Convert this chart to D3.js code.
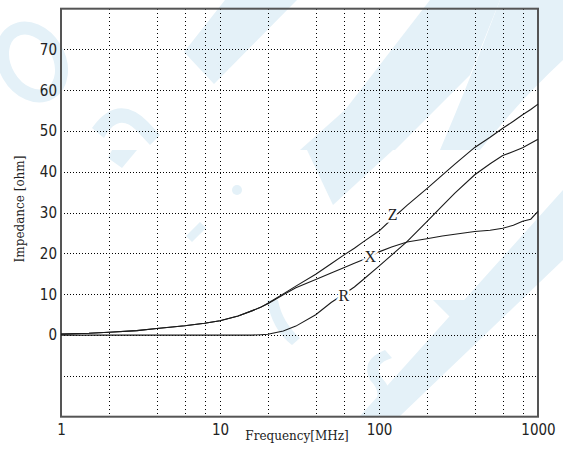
<!DOCTYPE html>
<html><head><meta charset="utf-8">
<script src="https://cdn.jsdelivr.net/npm/d3@7"></script>
<style>body{margin:0;background:#fff}svg{display:block}</style>
</head><body><svg id="c" width="563" height="449"></svg>
<script>
// ---- data ----
const freq  = [1, 1.5, 2, 3, 4, 5, 6, 8, 10, 13, 16, 18, 20, 25, 30, 40, 50, 60, 70, 80, 100, 120, 150, 200, 250, 300, 400, 500, 600, 700, 800, 900, 1000];
const zVals = [0.25, 0.45, 0.7, 1.1, 1.6, 2.0, 2.3, 2.9, 3.5, 4.7, 6.0, 6.8, 7.8, 10.1, 12.0, 14.9, 17.5, 19.6, 21.3, 22.9, 25.5, 28.4, 31.8, 35.9, 39.2, 41.9, 46.0, 48.5, 50.7, 52.4, 54.0, 55.3, 56.6];
const xVals = [0.25, 0.45, 0.7, 1.1, 1.6, 2.0, 2.3, 2.9, 3.5, 4.7, 6.0, 6.8, 7.7, 9.9, 11.6, 13.6, 15.2, 16.5, 17.6, 18.5, 20.4, 21.6, 22.8, 23.6, 24.3, 24.7, 25.4, 25.7, 26.2, 26.9, 27.9, 28.4, 30.3];
const rVals = [0, 0, 0, 0, 0, 0, 0, 0, 0, 0, 0, 0.1, 0.2, 1.0, 2.2, 5.0, 8.0, 10.0, 11.8, 13.7, 16.9, 19.6, 22.9, 27.8, 31.7, 34.8, 39.3, 42.0, 44.0, 45.0, 45.9, 47.0, 48.0];
const seriesNames = ["Z", "X", "R"];
const labelFreq = [122, 88, 60];
const labelVal  = [29.6, 19.3, 9.8];
const xTickVals = [1, 10, 100, 1000];
const xGridVals = [2, 4, 6, 8, 10, 20, 40, 60, 80, 100, 200, 400, 600, 800];
const yTickVals = [0, 10, 20, 30, 40, 50, 60, 70];
const yGridVals = [-10, 0, 10, 20, 30, 40, 50, 60, 70];
const xTitle = "Frequency[MHz]";
const yTitle = "Impedance [ohm]";

// ---- layout ----
const L = 61, R = 538, T = 8.7, B = 416.7;
const svg = d3.select("#c");
const x = d3.scaleLog().domain([1, 1000]).range([L, R]);
const y = d3.scaleLinear().domain([-20, 80]).range([B, T]);

// ---- watermark (decorative) ----
const wmc = "#e4f1f8";
const wm = svg.append("g").attr("fill", wmc).attr("stroke", "none");
wm.append("ellipse").attr("cx", 32).attr("cy", 62).attr("rx", 27).attr("ry", 36)
  .attr("transform", "rotate(-30,32,62)").attr("fill", "none").attr("stroke", wmc).attr("stroke-width", 13);
wm.append("path").attr("d", "M92,128 Q118,92 148,122 L160,135 L150,145 L136,130 Q118,112 104,138 Z");
wm.append("path").attr("d", "M112,150 L137,150 L122,168 L108,158 Z");
wm.append("circle").attr("cx", 237).attr("cy", 190).attr("r", 5);
wm.append("path").attr("d", "M186,236 L200,222 L206,228 L192,242 Z");
wm.append("path").attr("d", "M225,0 L297,0 L214,84 L184,52 Z");
wm.append("path").attr("d", "M300,150 L395,150 L470,75 L500,0 L430,0 L345,110 Z");
wm.append("path").attr("d", "M307,150 L393,150 L333,205 Z");
wm.append("path").attr("d", "M267,300 Q272,330 292,345 L300,338 Q282,322 278,300 Z");
wm.append("path").attr("d", "M385,350 Q360,360 370,380 Q385,395 370,410 L380,416 Q400,398 382,378 Q372,364 392,358 Z");
wm.append("path").attr("d", "M433,300 L482,300 L463,330 Z");
wm.append("path").attr("d", "M563,190 L563,260 L400,416 L360,416 Z");
wm.append("path").attr("d", "M500,0 L563,0 L563,60 Q520,100 480,150 L440,150 Q470,80 500,0 Z");

// ---- grid ----
const grid = svg.append("g").attr("stroke", "#000").attr("stroke-width", 1).attr("shape-rendering", "crispEdges");
grid.selectAll("line.h").data(yGridVals).join("line").attr("class", "h")
  .attr("x1", L).attr("x2", R).attr("y1", d => Math.round(y(d)) + 0.5).attr("y2", d => Math.round(y(d)) + 0.5)
  .attr("stroke-dasharray", "1,2");
grid.selectAll("line.v").data(xGridVals).join("line").attr("class", "v")
  .attr("y1", T).attr("y2", B).attr("x1", d => Math.round(x(d)) + 0.5).attr("x2", d => Math.round(x(d)) + 0.5)
  .attr("stroke-dasharray", "1,3");

// ---- frame ----
svg.append("rect").attr("x", L).attr("y", T).attr("width", R - L).attr("height", B - T)
  .attr("fill", "none").attr("stroke", "#555").attr("stroke-width", 2);

// ---- axes ----
const tickFont = "'Liberation Sans Narrow','DejaVu Sans Condensed',sans-serif";
const ax = svg.append("g").attr("transform", `translate(0,${B})`)
  .call(d3.axisBottom(x).tickValues(xTickVals).tickFormat(d3.format("d")).tickSize(0).tickPadding(8));
ax.select(".domain").remove();
ax.selectAll("text").attr("font-family", tickFont).attr("font-size", 15).attr("fill", "#222");
const ay = svg.append("g").attr("transform", `translate(${L},0)`)
  .call(d3.axisLeft(y).tickValues(yTickVals).tickSize(0).tickPadding(4));
ay.select(".domain").remove();
ay.selectAll("text").attr("font-family", tickFont).attr("font-size", 15).attr("fill", "#222");

// ---- titles ----
svg.append("text").attr("x", 297).attr("y", 440).attr("text-anchor", "middle")
  .attr("font-family", "'DejaVu Serif',serif").attr("font-size", 12).attr("fill", "#222").text(xTitle);
svg.append("text").attr("transform", "translate(24,209) rotate(-90)").attr("text-anchor", "middle")
  .attr("font-family", "'DejaVu Serif',serif").attr("font-size", 12).attr("fill", "#222").text(yTitle);

// ---- curves ----
const allVals = [zVals, xVals, rVals];
const line = d3.line().x(d => x(d[0])).y(d => y(d[1]));
const curves = svg.append("g").attr("fill", "none").attr("stroke", "#1a1a1a").attr("stroke-width", 1.1);
allVals.forEach(vals => {
  curves.append("path").attr("d", line(freq.map((f, i) => [f, vals[i]])));
});

// ---- series labels ----
svg.append("g").selectAll("text").data(seriesNames).join("text")
  .attr("x", (d, i) => x(labelFreq[i])).attr("y", (d, i) => y(labelVal[i]))
  .attr("dy", "0.35em").attr("text-anchor", "middle")
  .attr("font-family", "'Liberation Serif',serif").attr("font-size", 16).attr("fill", "#222")
  .attr("stroke", "#fff").attr("stroke-width", 5).attr("paint-order", "stroke")
  .text(d => d);
</script></body></html>
